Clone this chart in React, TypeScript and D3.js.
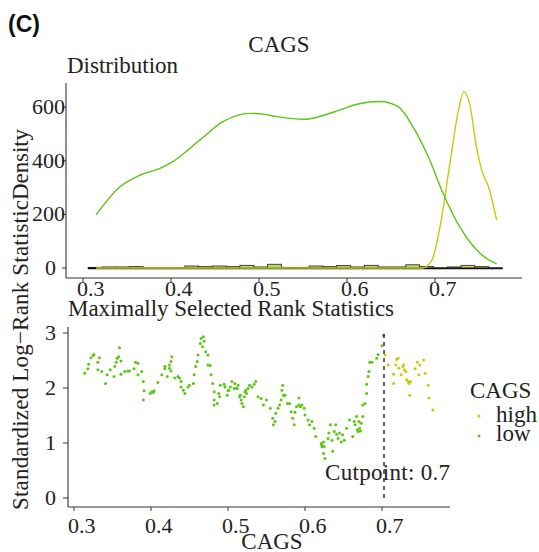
import React from "react";
import * as d3 from "d3";

// ---------- data ----------
const cutpoint = 0.7026;

const densityLow: [number, number][] = [
  [0.3148, 198], [0.342, 303], [0.365, 347], [0.3875, 372], [0.402, 397], [0.433, 478],
  [0.459, 546], [0.49, 577], [0.505, 574], [0.52, 565], [0.552, 555], [0.586, 583],
  [0.6125, 612], [0.6375, 621], [0.658, 602], [0.675, 527], [0.694, 403], [0.709, 280],
  [0.728, 154], [0.751, 55], [0.77, 15],
];

const densityHigh: [number, number][] = [
  [0.3148, 0], [0.686, 0], [0.6966, 30], [0.7057, 154], [0.717, 391], [0.726, 577],
  [0.733, 658], [0.74, 602], [0.747, 453], [0.753, 366], [0.762, 291], [0.77, 179],
];

const histStart = 0.3057;
const histBinWidth = 0.0157;
const histCounts = [2.5, 4, 4, 5, 1, 1, 1, 7.5, 5, 7.5, 5, 10, 4, 14, 2.5, 2.5, 7.5, 5, 9, 4, 10, 4, 4, 12, 6, 1, 4, 10, 5, 1];

const lowPoints: [number, number][] = [
  [0.314,2.27],[0.318,2.35],[0.319,2.43],[0.322,2.55],[0.325,2.59],[0.326,2.61],[0.331,2.47],[0.333,2.55],[0.331,2.33],[0.336,2.30],[0.341,2.08],[0.343,2.24],
  [0.347,2.33],[0.352,2.21],[0.353,2.39],[0.355,2.47],[0.356,2.54],[0.358,2.57],[0.359,2.73],[0.361,2.49],[0.361,2.25],[0.366,2.30],[0.370,2.31],[0.372,2.31],[0.378,2.35],[0.380,2.47],[0.383,2.45],[0.383,2.24],[0.388,2.30],[0.390,2.12],[0.391,1.95],[0.390,1.78],[0.399,1.90],[0.401,1.93],[0.403,1.92],[0.404,1.95],[0.409,2.10],[0.414,2.24],[0.418,2.35],[0.418,2.39],
  [0.421,2.21],[0.424,2.36],[0.424,2.42],[0.426,2.48],[0.427,2.57],[0.426,2.31],[0.431,2.18],[0.435,2.21],[0.437,2.18],[0.439,2.12],[0.439,2.02],[0.442,1.96],[0.444,1.90],[0.448,2.02],[0.450,2.05],[0.455,2.08],[0.456,2.24],[0.458,2.39],[0.460,2.48],[0.461,2.60],[0.464,2.81],[0.465,2.90],[0.468,2.93],[0.467,2.75],[0.469,2.85],[0.471,2.66],[0.474,2.60],[0.474,2.42],[0.477,2.41],[0.478,2.24],[0.480,2.08],[0.482,1.93],[0.482,1.78],
  [0.482,1.69],[0.486,1.72],[0.488,1.90],[0.489,1.84],[0.490,2.05],[0.495,2.07],[0.496,2.02],[0.499,1.87],[0.500,1.95],[0.501,1.96],[0.503,2.02],[0.505,2.12],[0.508,1.99],[0.509,2.08],[0.511,1.99],[0.512,1.99],[0.513,2.05],[0.515,1.84],[0.516,1.87],[0.517,1.78],[0.518,1.72],[0.520,1.66],[0.521,1.84],[0.522,1.93],[0.523,1.96],[0.524,1.90],[0.526,1.99],[0.528,2.05],[0.531,2.02],[0.534,2.07],[0.536,2.12],[0.539,1.84],[0.543,1.81],[0.546,1.69],[0.550,1.78],[0.555,1.63],[0.558,1.45],[0.559,1.33],
  [0.561,1.39],[0.562,1.54],[0.565,1.63],[0.567,1.69],[0.569,1.78],[0.571,2.05],[0.570,1.96],[0.572,1.87],[0.574,1.87],[0.577,1.72],[0.580,1.72],[0.582,1.57],[0.584,1.45],[0.586,1.33],[0.587,1.56],[0.589,1.66],[0.592,1.69],[0.592,1.82],[0.594,1.66],[0.596,1.69],[0.599,1.63],[0.600,1.51],[0.604,1.42],[0.606,1.33],[0.609,1.39],[0.612,1.27],[0.614,1.12],[0.621,0.99],[0.622,0.96],[0.622,0.93],[0.624,1.02],[0.624,0.81],[0.625,0.93],[0.626,0.72],[0.630,1.08],[0.631,1.18],[0.633,1.33],[0.635,1.05],[0.636,0.85],[0.638,1.21],[0.640,1.33],[0.641,1.16],[0.643,1.08],[0.645,1.18],[0.647,1.02],[0.649,1.15],[0.651,1.05],[0.654,1.27],[0.658,1.42],[0.662,1.12],[0.664,1.39],[0.665,1.33],[0.667,1.48],[0.668,1.24],[0.669,1.21],[0.670,1.39],[0.671,1.27],[0.672,1.22],[0.673,1.36],[0.675,1.48],[0.675,1.69],[0.678,1.72],[0.680,1.90],[0.680,2.07],[0.682,2.21],[0.683,2.30],[0.684,2.47],[0.687,2.47],[0.693,2.54],[0.695,2.61],[0.700,2.77],[0.702,2.96],
];

const highPoints: [number, number][] = [
  [0.704,2.60],[0.708,2.42],[0.715,2.25],[0.715,2.08],[0.718,2.42],[0.719,2.52],[0.721,2.54],[0.722,2.36],[0.725,2.24],[0.727,2.39],[0.728,2.42],[0.729,2.33],[0.731,2.30],[0.732,2.15],[0.734,2.12],[0.735,2.08],[0.737,2.12],[0.736,1.87],[0.743,2.35],[0.746,2.47],[0.748,2.24],[0.749,2.42],[0.754,2.51],[0.756,2.27],[0.760,2.05],[0.761,1.82],[0.766,1.60],
];

const xTicks = [0.3, 0.4, 0.5, 0.6, 0.7];
const yTicksTop = [0, 200, 400, 600];
const yTicksBottom = [0, 1, 2, 3];
const legendLabels = ["high", "low"];

// ---------- style ----------
const GREEN = "#5cc515";
const YELLOW = "#cdc70a";
const TXT = "#222";
const SERIF = "'Liberation Serif', Tinos, 'Times New Roman', 'DejaVu Serif', serif";

export default function App() {
  const xT = d3.scaleLinear().domain([0.3, 0.7]).range([83, 435]);
  const yT = d3.scaleLinear().domain([0, 600]).range([268, 107.2]);
  const xB = d3.scaleLinear().domain([0.3, 0.7]).range([74, 382]);
  const yB = d3.scaleLinear().domain([0, 3]).range([498, 333]);

  const densLine = d3
    .line<[number, number]>()
    .x((d) => xT(d[0]))
    .y((d) => yT(d[1]))
    .curve(d3.curveMonotoneX);

  const colorOf = (g: string) => (g === "high" ? YELLOW : GREEN);
  const yLabelX = (s: string) => 51.5 - 6.5 * s.length;
  const serif = { fontFamily: SERIF };

  return (
    <svg
      width={539}
      height={552}
      style={{ position: "absolute", left: 0, top: 0, background: "#fff" }}
    >
      <rect x={0} y={0} width={539} height={552} fill="#fff" />
      <text x={8} y={32} style={{ fontFamily: "'Liberation Sans', Arial, sans-serif" }} fontWeight="bold" fontSize={23} fill="#111">
        (C)
      </text>
      <text x={279} y={52} textAnchor="middle" fontSize={23} fill={TXT} style={serif}>CAGS</text>
      <text x={67} y={73} fontSize={23} fill={TXT} textLength={111} style={serif}>Distribution</text>

      {/* ---- top panel ---- */}
      <line x1={66} x2={66} y1={83} y2={278} stroke="#333" strokeWidth={1.1} />
      <line x1={66} x2={522} y1={278} y2={278} stroke="#333" strokeWidth={1.1} />
      {yTicksTop.map((t) => (
        <g key={"yt" + t}>
          <line x1={62} x2={66} y1={yT(t)} y2={yT(t)} stroke="#333" />
          <text x={yLabelX(String(t))} y={yT(t) + 7} fontSize={22} fill={TXT} style={serif}>{t}</text>
        </g>
      ))}
      {xTicks.map((t) => (
        <g key={"xt" + t}>
          <line x1={xT(t)} x2={xT(t)} y1={278} y2={282} stroke="#333" />
          <text x={xT(t) - 6} y={296} fontSize={22} fill={TXT} style={serif}>{t.toFixed(1)}</text>
        </g>
      ))}
      {/* histogram */}
      {histCounts.map((c, i) => {
        const x0 = histStart + i * histBinWidth;
        const x1 = x0 + histBinWidth;
        const high = (x0 + x1) / 2 > cutpoint;
        return (
          <rect
            key={"h" + i}
            x={xT(x0)}
            y={yT(c)}
            width={xT(x1) - xT(x0)}
            height={Math.max(yT(0) - yT(c), 0.5)}
            fill={high ? "#d8d46a" : "#a6dc78"}
            stroke="#222"
            strokeWidth={0.8}
          />
        );
      })}
      <line x1={xT(histStart)} x2={xT(histStart + histCounts.length * histBinWidth)} y1={yT(0) + 0.5} y2={yT(0) + 0.5} stroke="#111" strokeWidth={1.6} />
      <path d={densLine(densityHigh) || ""} fill="none" stroke={YELLOW} strokeWidth={1.4} />
      <path d={densLine(densityLow) || ""} fill="none" stroke={GREEN} strokeWidth={1.4} />

      {/* ---- bottom panel ---- */}
      <text x={68} y={316} fontSize={23} fill={TXT} textLength={326} style={serif}>Maximally Selected Rank Statistics</text>
      <line x1={68} x2={68} y1={327} y2={507} stroke="#333" strokeWidth={1.1} />
      <line x1={68} x2={450} y1={507} y2={507} stroke="#333" strokeWidth={1.1} />
      {yTicksBottom.map((t) => (
        <g key={"yb" + t}>
          <line x1={63} x2={68} y1={yB(t)} y2={yB(t)} stroke="#333" />
          <text x={yLabelX(String(t))} y={yB(t) + 7} fontSize={22} fill={TXT} style={serif}>{t}</text>
        </g>
      ))}
      {xTicks.map((t) => (
        <g key={"xb" + t}>
          <line x1={xB(t)} x2={xB(t)} y1={507} y2={511} stroke="#333" />
          <text x={xB(t) - 6} y={533} fontSize={22} fill={TXT} style={serif}>{t.toFixed(1)}</text>
        </g>
      ))}
      {lowPoints.map((p, i) => (
        <circle key={"l" + i} cx={xB(p[0])} cy={yB(p[1])} r={1.5} fill={GREEN} />
      ))}
      {highPoints.map((p, i) => (
        <circle key={"hp" + i} cx={xB(p[0])} cy={yB(p[1])} r={1.5} fill={YELLOW} />
      ))}
      <line x1={xB(cutpoint)} x2={xB(cutpoint)} y1={yB(0)} y2={yB(3)} stroke="#111" strokeWidth={1.3} strokeDasharray="4,4" />
      <text x={325} y={480} fontSize={23} fill={TXT} textLength={125} style={serif}>Cutpoint: 0.7</text>
      <text x={272} y={549} textAnchor="middle" fontSize={23} fill={TXT} style={serif}>CAGS</text>

      {/* y axis title */}
      <text transform="translate(28,510) rotate(-90)" fontSize={23} fill={TXT} textLength={310} style={serif}>
        Standardized Log−Rank Statistic
      </text>
      <text transform="translate(28,200) rotate(-90)" fontSize={23} fill={TXT} textLength={71} style={serif}>
        Density
      </text>

      {/* legend */}
      <text x={470} y={398} fontSize={23} fill={TXT} style={serif}>CAGS</text>
      {legendLabels.map((g, i) => (
        <g key={"lg" + g}>
          <circle cx={479} cy={416 + i * 20} r={1.5} fill={colorOf(g)} />
          <text x={496} y={422 + i * 19} fontSize={23} fill={TXT} style={serif}>{g}</text>
        </g>
      ))}
    </svg>
  );
}
